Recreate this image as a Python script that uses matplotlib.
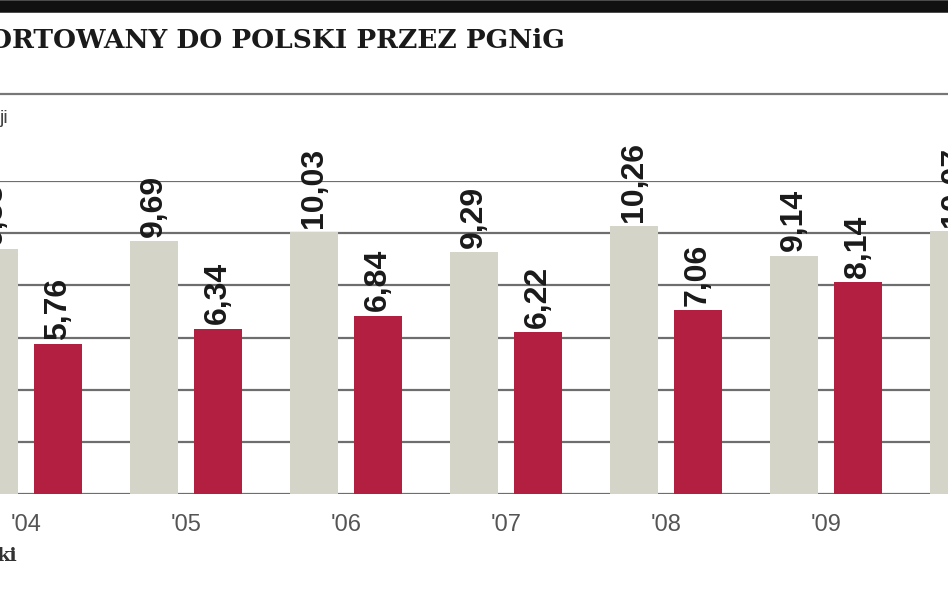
import matplotlib
matplotlib.use("Agg")
import matplotlib.pyplot as plt
import numpy as np

years = ["'04", "'05", "'06", "'07", "'08", "'09", "'10"]
gray_vals = [9.38, 9.69, 10.03, 9.29, 10.26, 9.14, 10.07]
red_vals = [5.76, 6.34, 6.84, 6.22, 7.06, 8.14, None]
gray_lbl = ["9,38", "9,69", "10,03", "9,29", "10,26", "9,14", "10,07"]
red_lbl = ["5,76", "6,34", "6,84", "6,22", "7,06", "8,14", None]

GRAY = "#d4d4c9"
RED = "#b31f40"
NUM_FONT = ["Liberation Sans", "DejaVu Sans"]

W, H = 948, 593
fig = plt.figure(figsize=(W / 100, H / 100), dpi=100)

# axes placed so that 0 sits at y=494 px and 12 at y=181 px
ax = fig.add_axes([0, (H - 494) / H, 1, (494 - 181) / H])
ax.set_xlim(-26 / 160, (W - 26) / 160)
ax.set_ylim(0, 12)
ax.axis("off")

for yv in range(0, 13, 2):
    ax.axhline(yv, color="#6e6e6e", lw=1.6, zorder=0)

x = np.arange(len(years))
ax.bar(x - 0.2, gray_vals, width=0.3, color=GRAY, zorder=2)
for i, v in enumerate(red_vals):
    if v is not None:
        ax.bar(x[i] + 0.2, v, width=0.3, color=RED, zorder=2)

def lab(xp, v, s):
    ax.annotate(s, (xp, v), xytext=(0, 3), textcoords="offset points",
                rotation=90, ha="center", va="bottom", fontsize=23,
                fontweight="bold", family=NUM_FONT, color="#1a1a1a",
                annotation_clip=False, zorder=3)

for i in range(len(years)):
    lab(x[i] - 0.2, gray_vals[i], gray_lbl[i])
    if red_vals[i] is not None:
        lab(x[i] + 0.2, red_vals[i], red_lbl[i])
    ax.text(x[i], -1.2, years[i], ha="center", va="center", fontsize=17,
            family=NUM_FONT, color="#555555", clip_on=False)

# header decoration
fig.add_artist(plt.Line2D([0, 1], [1 - 6 / H, 1 - 6 / H], color="#111111", lw=9))
fig.add_artist(plt.Line2D([0, 1], [1 - 94 / H, 1 - 94 / H], color="#777777", lw=1.6))
fig.text(-0.012, 1 - 40 / H, "ORTOWANY DO POLSKI PRZEZ PGNiG", fontsize=19,
         family="DejaVu Serif", fontweight="bold", color="#1a1a1a", va="center")
fig.text(0.0, 1 - 118 / H, "ji", fontsize=14, family=NUM_FONT, color="#444444", va="center")
fig.text(-0.004, 1 - 556 / H, "ki", fontsize=14, family="DejaVu Serif",
         fontweight="bold", color="#333333", va="center")

fig.savefig("out.png", dpi=100)
